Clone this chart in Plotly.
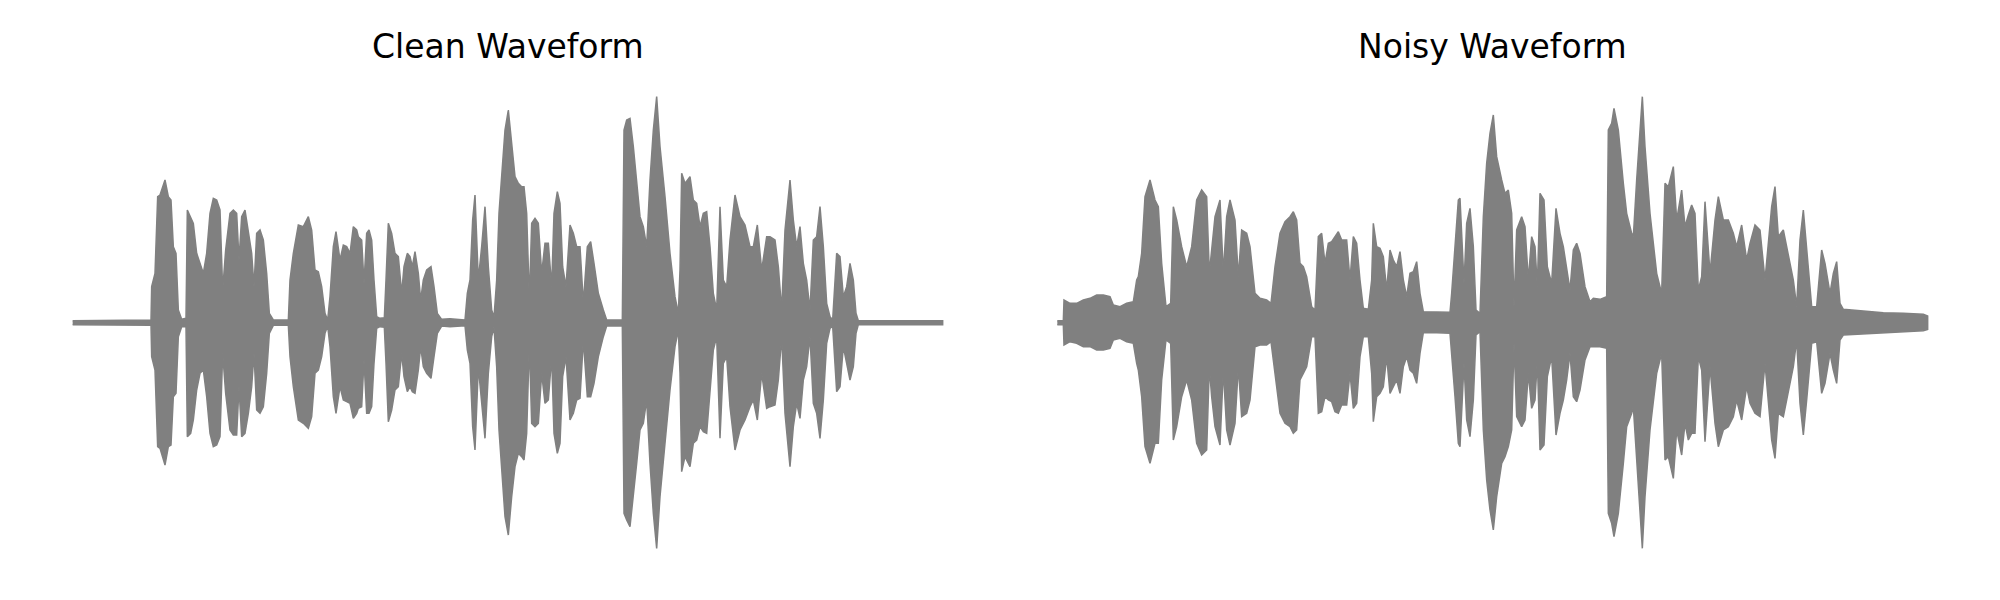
import plotly.graph_objects as go

# Envelope of each waveform.
# time in ms from the start of the clip; amplitude in arbitrary sample units
clean_t = [
    0, 235, 237, 247, 255, 262, 277, 287, 295, 302,
    310, 317, 327, 340, 344, 354, 362, 372, 382, 392,
    402, 412, 422, 432, 442, 450, 459, 472, 482, 492,
    499, 507, 517, 527, 537, 544, 552, 562, 572, 582,
    590, 602, 647, 652, 662, 677, 692, 707, 717, 727,
    737, 747, 757, 765, 772, 782, 790, 802, 812, 822,
    832, 842, 852, 857, 867, 874, 882, 889, 897, 904,
    912, 922, 935, 940, 947, 957, 967, 977, 987, 994,
    1004, 1012, 1019, 1027, 1037, 1044, 1052, 1062, 1075, 1084,
    1094, 1107, 1132, 1177, 1184, 1192, 1200, 1207, 1217, 1227,
    1237, 1247, 1257, 1264, 1272, 1279, 1287, 1297, 1307, 1317,
    1327, 1337, 1347, 1354, 1362, 1370, 1377, 1387, 1397, 1407,
    1417, 1427, 1437, 1444, 1454, 1462, 1470, 1480, 1492, 1502,
    1512, 1522, 1532, 1544, 1554, 1564, 1577, 1592, 1602, 1649,
    1654, 1662, 1672, 1682, 1692, 1702, 1712, 1722, 1732, 1742,
    1752, 1762, 1777, 1792, 1807, 1817, 1822, 1827, 1837, 1852,
    1862, 1872, 1882, 1892, 1902, 1912, 1922, 1932, 1942, 1952,
    1962, 1972, 1987, 2002, 2017, 2032, 2042, 2054, 2067, 2082,
    2092, 2107, 2117, 2127, 2137, 2152, 2162, 2172, 2182, 2192,
    2202, 2212, 2222, 2232, 2242, 2252, 2262, 2272, 2280, 2292,
    2302, 2312, 2322, 2332, 2342, 2350, 2357, 2610,
]
clean_upper = [
    6, 8, 108, 148, 378, 383, 428, 378, 368, 228,
    208, 38, 10, 13, 338, 318, 298, 208, 178, 148,
    208, 328, 373, 368, 338, 98, 218, 328, 338, 328,
    188, 318, 338, 278, 208, 108, 268, 278, 248, 148,
    28, 8, 8, 128, 208, 293, 288, 318, 278, 158,
    153, 108, 28, 8, 78, 228, 273, 188, 233, 228,
    208, 288, 278, 258, 248, 118, 268, 278, 248, 128,
    18, 13, 15, 128, 298, 268, 208, 198, 88, 168,
    208, 198, 168, 213, 148, 68, 128, 158, 168, 108,
    28, 10, 12, 8, 88, 128, 308, 383, 128, 228,
    348, 168, 38, 16, 128, 328, 428, 578, 638, 528,
    438, 418, 408, 408, 328, 68, 298, 313, 298, 148,
    238, 238, 108, 328, 393, 358, 168, 108, 293, 268,
    228, 228, 58, 228, 243, 178, 88, 38, 8, 8,
    578, 608, 613, 528, 428, 318, 288, 228, 428, 578,
    678, 528, 378, 208, 78, 28, 158, 448, 418, 438,
    368, 358, 288, 328, 333, 228, 88, 38, 348, 128,
    108, 248, 383, 318, 293, 228, 228, 293, 158, 258,
    258, 248, 168, 38, 278, 428, 308, 228, 288, 178,
    128, 38, 248, 258, 348, 228, 58, 18, 8, 208,
    198, 78, 108, 178, 128, 28, 6, 6,
]
clean_lower = [
    -6, -8, -102, -142, -372, -377, -427, -372, -367, -222,
    -212, -42, -12, -12, -342, -332, -292, -202, -152, -142,
    -222, -332, -372, -367, -342, -92, -212, -322, -337, -337,
    -192, -342, -332, -272, -192, -92, -262, -272, -252, -152,
    -32, -8, -8, -102, -192, -292, -302, -317, -282, -152,
    -142, -102, -32, -10, -72, -222, -272, -192, -232, -237,
    -242, -287, -272, -257, -252, -112, -272, -272, -252, -122,
    -17, -12, -14, -122, -297, -262, -202, -192, -92, -162,
    -207, -192, -207, -212, -142, -72, -132, -152, -167, -102,
    -32, -10, -12, -9, -82, -122, -312, -382, -132, -232,
    -347, -152, -42, -14, -132, -322, -422, -582, -637, -522,
    -432, -392, -402, -412, -332, -62, -302, -312, -302, -152,
    -242, -232, -102, -332, -392, -362, -162, -102, -292, -272,
    -232, -227, -52, -222, -222, -182, -102, -42, -10, -10,
    -572, -592, -612, -522, -422, -322, -302, -232, -422, -572,
    -677, -522, -372, -202, -72, -22, -152, -447, -402, -432,
    -362, -352, -312, -327, -332, -222, -82, -42, -347, -122,
    -102, -252, -382, -322, -292, -252, -232, -292, -152, -257,
    -252, -247, -172, -42, -272, -432, -312, -242, -287, -172,
    -132, -42, -242, -272, -347, -232, -62, -17, -10, -207,
    -192, -72, -122, -172, -132, -32, -6, -6,
]

noisy_t = [
    0, 18, 20, 38, 58, 78, 98, 118, 138, 158,
    168, 188, 208, 228, 238, 243, 253, 263, 278, 293,
    303, 313, 326, 340, 348, 358, 373, 388, 403, 418,
    433, 448, 456, 463, 473, 488, 498, 508, 518, 533,
    543, 553, 568, 578, 593, 608, 628, 641, 653, 668,
    683, 698, 708, 718, 728, 738, 748, 763, 773, 783,
    793, 803, 813, 823, 833, 843, 853, 858, 868, 878,
    888, 898, 908, 918, 933, 943, 948, 958, 968, 978,
    988, 998, 1008, 1018, 1028, 1038, 1048, 1058, 1068, 1078,
    1088, 1098, 1138, 1178, 1183, 1193, 1203, 1208, 1220, 1228,
    1238, 1248, 1256, 1268, 1278, 1288, 1298, 1308, 1318, 1333,
    1343, 1353, 1363, 1370, 1378, 1393, 1403, 1413, 1423, 1433,
    1440, 1448, 1460, 1470, 1483, 1496, 1508, 1518, 1528, 1538,
    1548, 1558, 1568, 1583, 1598, 1608, 1628, 1648, 1653, 1663,
    1670, 1683, 1698, 1708, 1723, 1728, 1738, 1748, 1755, 1763,
    1778, 1798, 1813, 1823, 1833, 1848, 1858, 1873, 1883, 1893,
    1903, 1913, 1923, 1933, 1943, 1958, 1973, 1983, 1998, 2013,
    2028, 2038, 2053, 2068, 2078, 2093, 2108, 2123, 2133, 2143,
    2153, 2163, 2178, 2193, 2208, 2218, 2228, 2238, 2248, 2263,
    2278, 2293, 2303, 2318, 2328, 2338, 2348, 2358, 2418, 2478,
    2538, 2598, 2611,
]
noisy_upper = [
    6, 6, 68, 58, 58, 68, 73, 83, 83, 78,
    53, 48, 58, 63, 128, 138, 208, 378, 428, 368,
    348, 178, 48, 58, 348, 308, 228, 168, 228, 368,
    398, 378, 148, 228, 318, 368, 148, 318, 368, 308,
    138, 278, 268, 228, 88, 73, 68, 58, 168, 268,
    303, 318, 333, 308, 178, 168, 138, 48, 38, 258,
    268, 178, 238, 243, 258, 273, 248, 248, 248, 128,
    258, 238, 128, 43, 40, 128, 298, 228, 223, 198,
    98, 218, 188, 168, 213, 128, 78, 148, 153, 183,
    88, 33, 31, 31, 88, 228, 368, 373, 118, 298,
    343, 228, 38, 28, 318, 478, 568, 623, 498, 428,
    388, 398, 328, 48, 278, 318, 288, 128, 258, 228,
    108, 388, 368, 168, 118, 343, 268, 228, 168, 98,
    218, 238, 208, 108, 63, 73, 70, 78, 578, 598,
    643, 578, 418, 328, 268, 258, 428, 578, 678, 528,
    328, 148, 88, 418, 408, 468, 308, 398, 288, 323,
    353, 328, 98, 138, 363, 148, 308, 378, 308, 308,
    268, 228, 293, 188, 238, 293, 278, 128, 228, 348,
    408, 258, 278, 198, 128, 48, 248, 338, 228, 48,
    48, 218, 178, 88, 148, 183, 58, 40, 35, 30,
    28, 25, 20,
]
noisy_lower = [
    -6, -6, -67, -57, -62, -72, -72, -82, -82, -77,
    -52, -47, -57, -62, -122, -142, -222, -372, -422, -362,
    -362, -172, -52, -62, -352, -312, -222, -172, -232, -362,
    -397, -382, -132, -222, -312, -367, -142, -322, -367, -302,
    -132, -282, -272, -232, -72, -67, -67, -57, -152, -272,
    -302, -312, -332, -322, -172, -152, -132, -42, -42, -272,
    -267, -222, -232, -237, -267, -272, -247, -247, -247, -152,
    -257, -242, -102, -42, -42, -152, -297, -222, -212, -192,
    -102, -212, -192, -172, -212, -132, -102, -142, -152, -182,
    -92, -30, -30, -32, -92, -222, -362, -372, -122, -292,
    -342, -232, -37, -27, -322, -472, -562, -622, -522, -422,
    -402, -372, -322, -62, -282, -312, -292, -152, -257, -232,
    -112, -382, -367, -162, -102, -337, -272, -232, -172, -92,
    -222, -237, -202, -112, -72, -72, -72, -77, -572, -602,
    -642, -572, -422, -312, -272, -252, -422, -572, -677, -522,
    -322, -152, -92, -412, -402, -467, -322, -397, -302, -352,
    -332, -332, -102, -142, -357, -132, -302, -372, -322, -312,
    -282, -232, -292, -192, -242, -272, -282, -122, -232, -352,
    -407, -272, -282, -202, -132, -52, -242, -337, -232, -62,
    -57, -212, -182, -92, -142, -182, -52, -37, -34, -30,
    -27, -24, -20,
]

titles = ["Clean Waveform", "Noisy Waveform"]

assert len(clean_t) == len(clean_upper) == len(clean_lower)
assert len(noisy_t) == len(noisy_upper) == len(noisy_lower)

WAVE_COLOR = "#808080"
FIG_W, FIG_H = 1984, 584   # page has an 8px body margin around the figure

fig = go.Figure()
panels = [
    (clean_t, clean_upper, clean_lower, "x", "y"),
    (noisy_t, noisy_upper, noisy_lower, "x2", "y2"),
]
for t, up, lo, xa, ya in panels:
    xs = list(t) + list(t)[::-1]
    ys = list(up) + list(lo)[::-1]
    fig.add_trace(go.Scatter(
        x=xs, y=ys, mode="lines", fill="toself",
        fillcolor=WAVE_COLOR, line=dict(color=WAVE_COLOR, width=1.5),
        xaxis=xa, yaxis=ya, hoverinfo="skip", showlegend=False,
    ))

title_font = dict(family="DejaVu Sans", size=33, color="black")
fig.update_layout(
    width=FIG_W, height=FIG_H,
    margin=dict(l=0, r=0, t=0, b=0),
    paper_bgcolor="white", plot_bgcolor="white",
    showlegend=False,
    xaxis=dict(domain=[0, 0.5], range=[-194, 2782], visible=False),
    xaxis2=dict(domain=[0.5, 1], range=[-172, 2804], visible=False, anchor="y2"),
    yaxis=dict(domain=[0, 1], range=[-808, 944], visible=False),
    yaxis2=dict(domain=[0, 1], range=[-808, 944], visible=False, anchor="x2"),
    annotations=[
        dict(text=titles[0], xref="paper", yref="paper",
             x=(507.7 - 8) / FIG_W, y=1 - (46.5 - 8) / FIG_H,
             xanchor="center", yanchor="middle", showarrow=False, font=title_font),
        dict(text=titles[1], xref="paper", yref="paper",
             x=(1492.0 - 8) / FIG_W, y=1 - (46.5 - 8) / FIG_H,
             xanchor="center", yanchor="middle", showarrow=False, font=title_font),
    ],
)

fig.write_html("out.html")
